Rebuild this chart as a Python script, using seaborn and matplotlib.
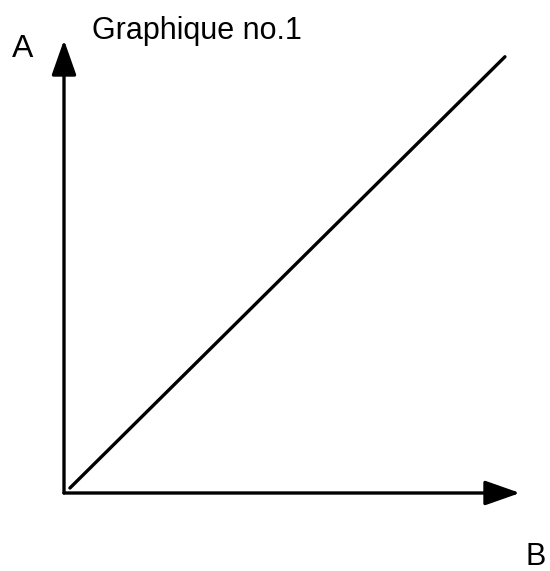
import matplotlib
matplotlib.use("Agg")
import matplotlib.pyplot as plt
import seaborn as sns

# Data (axes run 0..100 on both sides)
b_values = [1.3, 96.7]
a_values = [1.1, 96.3]
title = "Graphique no.1"
x_label = "B"
y_label = "A"

sns.set_style("white")
plt.rcParams["font.family"] = ["Liberation Sans", "DejaVu Sans"]

W, H = 550, 571
fig = plt.figure(figsize=(W / 100, H / 100), dpi=100)
ax = fig.add_axes([64 / W, 78 / H, 456 / W, 453 / H])

sns.lineplot(x=b_values, y=a_values, color="black", linewidth=2.4, ax=ax)
ax.set_xlim(0, 100)
ax.set_ylim(0, 100)
ax.set_axis_off()

# axes drawn as arrows
arrow = dict(arrowstyle="-|>,head_length=1.08,head_width=0.38", mutation_scale=20,
             color="black", lw=2.4, shrinkA=0, shrinkB=0)
ax.annotate("", xy=(0, 1), xytext=(0, 0), xycoords="axes fraction",
            arrowprops=arrow, annotation_clip=False)
ax.annotate("", xy=(1, 0), xytext=(0, 0), xycoords="axes fraction",
            arrowprops=arrow, annotation_clip=False)

fig.text(92 / W, 1 - 39 / H, title, fontsize=22, va="baseline", ha="left", color="black")
fig.text(12 / W, 1 - 57 / H, y_label, fontsize=23, va="baseline", ha="left", color="black")
fig.text(526 / W, 1 - 565 / H, x_label, fontsize=22, va="baseline", ha="left", color="black")

fig.savefig("out.png", dpi=100, facecolor="white")
